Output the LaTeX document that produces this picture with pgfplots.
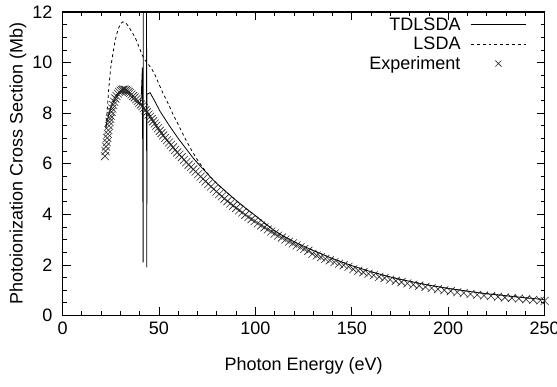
\documentclass[border=0pt]{standalone}
\usepackage{pgfplots}
\pgfplotsset{compat=1.18}
\usepackage{fontspec}
\setmainfont{Liberation Sans}
\newcommand{\fs}{\fontsize{13.5}{15}\selectfont}
\pgfplotstableread{
x y
22.5 7.40
23.0 7.65
24.0 7.95
25.0 8.20
26.0 8.38
27.0 8.52
28.0 8.65
29.0 8.75
30.0 8.82
31.0 8.85
32.0 8.85
33.0 8.82
34.0 8.77
35.0 8.70
36.0 8.63
37.0 8.55
38.0 8.47
39.0 8.40
40.0 8.35
40.8 8.60
41.4 9.80
41.8 2.10
41.95 25
43.5 25
43.65 1.90
43.85 8.75
45.4 8.81
48.0 8.45
50.6 8.07
55.0 7.55
60.0 7.00
65.0 6.50
67.8 6.22
71.3 5.92
75.0 5.62
77.0 5.45
80.0 5.22
85.0 4.88
90.0 4.55
95.0 4.24
100.0 3.95
105.0 3.64
110.0 3.35
115.0 3.12
120.0 2.92
125.0 2.74
130.0 2.57
140.0 2.25
150.0 1.97
160.0 1.73
170.0 1.52
180.0 1.35
190.0 1.20
200.0 1.07
210.0 0.96
220.0 0.86
230.0 0.78
240.0 0.70
250.0 0.63
}\tdlsda
\pgfplotstableread{
x y
22.4 7.45
23.0 7.95
24.0 9.00
25.0 9.80
26.0 10.30
27.0 10.75
28.0 11.10
29.0 11.35
30.0 11.52
31.0 11.60
32.0 11.60
33.0 11.55
34.0 11.45
35.0 11.33
36.0 11.20
37.0 11.08
38.0 10.93
39.0 10.75
40.0 10.55
41.0 10.35
42.0 10.20
43.0 10.08
44.0 9.98
45.0 9.88
46.0 9.78
47.0 9.65
48.0 9.50
50.0 9.15
52.0 8.80
55.0 8.35
57.0 8.00
60.0 7.55
63.0 7.08
65.0 6.80
67.0 6.52
70.0 6.15
73.0 5.82
77.0 5.45
80.0 5.22
85.0 4.88
90.0 4.55
95.0 4.24
100.0 3.95
105.0 3.64
110.0 3.35
115.0 3.12
120.0 2.92
125.0 2.74
130.0 2.57
140.0 2.25
150.0 1.97
160.0 1.73
170.0 1.52
180.0 1.35
190.0 1.20
200.0 1.07
210.0 0.96
220.0 0.86
230.0 0.78
240.0 0.70
250.0 0.63
}\lsda
\pgfplotstableread{
x y
22.0 6.30
22.3 6.50
22.6 6.68
22.9 6.85
23.2 7.02
23.5 7.18
23.8 7.33
24.1 7.50
24.4 7.65
24.7 7.78
25.0 7.90
25.4 8.05
25.8 8.18
26.3 8.32
26.8 8.45
27.4 8.58
28.0 8.68
28.7 8.77
29.4 8.84
30.1 8.89
30.8 8.92
31.5 8.93
32.2 8.93
32.9 8.91
33.6 8.88
34.3 8.84
35.0 8.80
35.8 8.74
36.6 8.68
37.4 8.62
38.2 8.55
39.0 8.48
39.8 8.41
40.6 8.34
41.4 8.28
42.2 8.20
43.0 8.12
43.8 8.04
44.6 7.95
45.4 7.86
46.2 7.77
47.0 7.68
47.8 7.59
48.6 7.50
49.5 7.40
50.4 7.30
51.3 7.21
52.2 7.12
53.2 7.02
54.2 6.93
55.2 6.84
56.2 6.75
57.3 6.65
58.4 6.55
59.5 6.45
60.6 6.36
61.8 6.26
63.0 6.16
64.2 6.06
65.4 5.96
66.6 5.87
67.8 5.78
69.0 5.69
70.3 5.59
71.6 5.49
72.9 5.40
74.2 5.30
75.6 5.20
77.0 5.10
78.4 5.00
79.8 4.90
81.2 4.80
82.6 4.71
84.0 4.62
85.5 4.52
87.0 4.43
88.5 4.34
90.0 4.25
91.6 4.16
93.2 4.07
94.8 3.98
96.4 3.89
98.0 3.81
99.6 3.73
101.3 3.64
103.0 3.56
104.7 3.48
106.4 3.40
108.2 3.32
110.0 3.24
111.8 3.16
113.7 3.08
115.6 3.00
117.5 2.92
119.4 2.85
121.4 2.77
123.4 2.70
125.4 2.63
127.5 2.56
129.6 2.44
131.8 2.37
134.0 2.30
136.3 2.24
138.6 2.18
141.0 2.11
143.4 2.05
145.8 1.99
148.3 1.93
150.8 1.83
153.4 1.77
156.0 1.71
158.7 1.65
161.4 1.59
164.2 1.53
167.0 1.48
169.9 1.42
172.8 1.37
175.8 1.32
178.8 1.27
181.9 1.22
185.0 1.18
188.2 1.13
191.4 1.08
194.7 1.04
198.0 1.00
201.3 0.96
204.7 0.92
208.1 0.89
211.6 0.85
215.1 0.82
218.6 0.79
222.2 0.77
225.8 0.74
229.4 0.71
233.0 0.69
236.7 0.67
240.4 0.64
244.1 0.62
247.8 0.60
250.0 0.58
}\expt
\begin{document}
\begin{tikzpicture}
\begin{axis}[
  scale only axis,
  width=361.5pt, height=227.6pt,
  xmin=0, xmax=250, ymin=0, ymax=12,
  xtick={0,50,...,250}, ytick={0,2,...,12},
  minor x tick num=4, minor y tick num=3,
  tick align=inside,
  major tick length=6pt, minor tick length=3pt,
  axis line style={line width=0.8pt},
  every tick/.style={black, line width=0.6pt},
  /pgf/number format/assume math mode=true,
  tick label style={font=\fs},
  xticklabel style={yshift=-1.5pt},
  yticklabel style={xshift=-4pt},
  label style={font=\fs},
  xlabel={Photon Energy (eV)},
  ylabel={Photoionization Cross Section (Mb)},
  xlabel style={at={(axis description cs:0.5,-0.1664)}, anchor=center},
  ylabel style={at={(axis description cs:-0.0923,0.5)}, anchor=center},
  legend style={draw=none, fill=none, font=\fs, at={(rel axis cs:1,1)}, anchor=north east, xshift=-10.5pt, yshift=-1.5pt, row sep=2.5pt, column sep=7pt, nodes={inner sep=0.5pt}},
  legend cell align=right,
  legend plot pos=right,
]
\addplot[black, line width=0.6pt, legend image code/.code={\draw[black, line width=0.6pt] (0cm,0cm) -- (1.45cm,0cm);}] table[x=x,y=y] {\tdlsda};
\addlegendentry{TDLSDA}
\addplot[black, line width=0.6pt, dash pattern=on 2.2pt off 2.2pt, legend image code/.code={\draw[black, line width=0.6pt, dash pattern=on 2.2pt off 2.2pt] (0cm,0cm) -- (1.45cm,0cm);}] table[x=x,y=y] {\lsda};
\addlegendentry{LSDA}
\addplot[only marks, mark=x, mark size=4.2pt, black!85, mark options={line width=0.45pt}, legend image code/.code={\draw[black!85, line width=0.45pt] plot[mark=x, mark size=3.2pt] coordinates {(0.725cm,0cm)};}] table[x=x,y=y] {\expt};
\addlegendentry{Experiment}
\end{axis}
\pgfresetboundingbox
\path ([shift={(-46.9pt,-53.6pt)}]current axis.south west) rectangle ([shift={(9.3pt,9pt)}]current axis.north east);
\end{tikzpicture}
\end{document}
